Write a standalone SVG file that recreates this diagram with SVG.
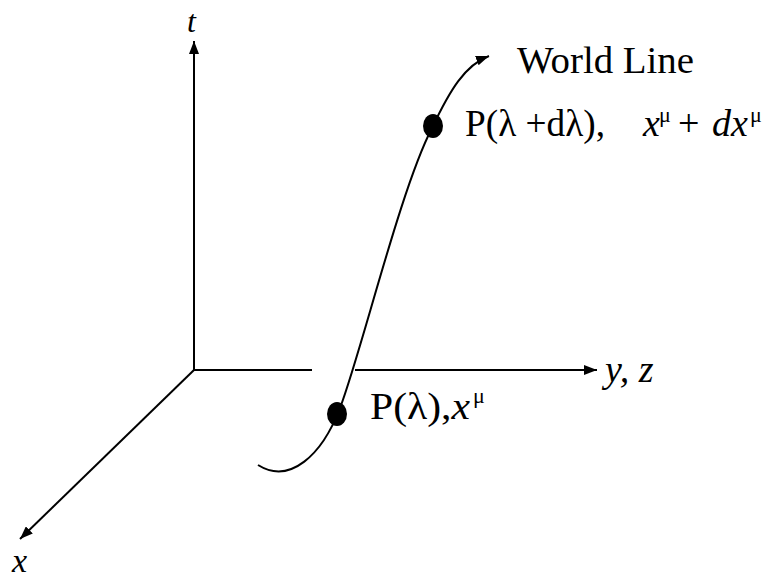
<svg xmlns="http://www.w3.org/2000/svg" width="772" height="582" viewBox="0 0 772 582">
<style>
.ax{stroke:#000;stroke-width:2;fill:none}
.t{font-family:"Liberation Serif","Times New Roman",serif;fill:#000}
.i{font-style:italic}
</style>
<defs>
<marker id="ah" markerUnits="userSpaceOnUse" markerWidth="14" markerHeight="10" refX="13" refY="5" orient="auto">
<path d="M0,0 L13,5 L0,10 z" fill="#000"/>
</marker>
</defs>
<rect width="772" height="582" fill="#fff"/>
<g id="connectors">
<line id="t-axis" class="ax" x1="194" y1="370" x2="194" y2="41" marker-end="url(#ah)"/>
<line id="y-axis-a" class="ax" x1="194" y1="370" x2="312" y2="370"/>
<line id="y-axis-b" class="ax" x1="355" y1="370" x2="597" y2="370" marker-end="url(#ah)"/>
<line id="x-axis" class="ax" x1="194" y1="370" x2="20" y2="539" marker-end="url(#ah)"/>
<path id="world-line" class="ax" d="M258,465 C290,485 322,455 340,408 C362,350 400,190 432,128 C450,90 465,65 489,56" marker-end="url(#ah)"/>
</g>
<g id="node-p1">
<ellipse cx="337" cy="414" rx="10" ry="12" fill="#000"/>
<text class="t" x="370" y="419" font-size="38" textLength="100" lengthAdjust="spacingAndGlyphs">P(λ),<tspan class="i">x</tspan></text>
<text class="t" x="473" y="403" font-size="22">μ</text>
</g>
<g id="node-p2">
<ellipse cx="433" cy="126" rx="10" ry="12" fill="#000"/>
<text class="t" x="465" y="136" font-size="38" textLength="140" lengthAdjust="spacingAndGlyphs">P(λ +dλ),</text>
<text class="t i" x="643" y="136" font-size="38">x</text>
<text class="t" x="659" y="122" font-size="22">μ</text>
<text class="t" x="678" y="136" font-size="38">+</text>
<text class="t i" x="712" y="136" font-size="38">dx</text>
<text class="t" x="750" y="122" font-size="22">μ</text>
</g>
<g id="labels">
<text class="t" x="517" y="73" font-size="38" textLength="177" lengthAdjust="spacingAndGlyphs">World Line</text>
<text class="t i" x="187" y="32" font-size="32">t</text>
<text class="t i" x="605" y="382" font-size="38">y, z</text>
<text class="t i" x="12" y="572" font-size="34">x</text>
</g>
</svg>
